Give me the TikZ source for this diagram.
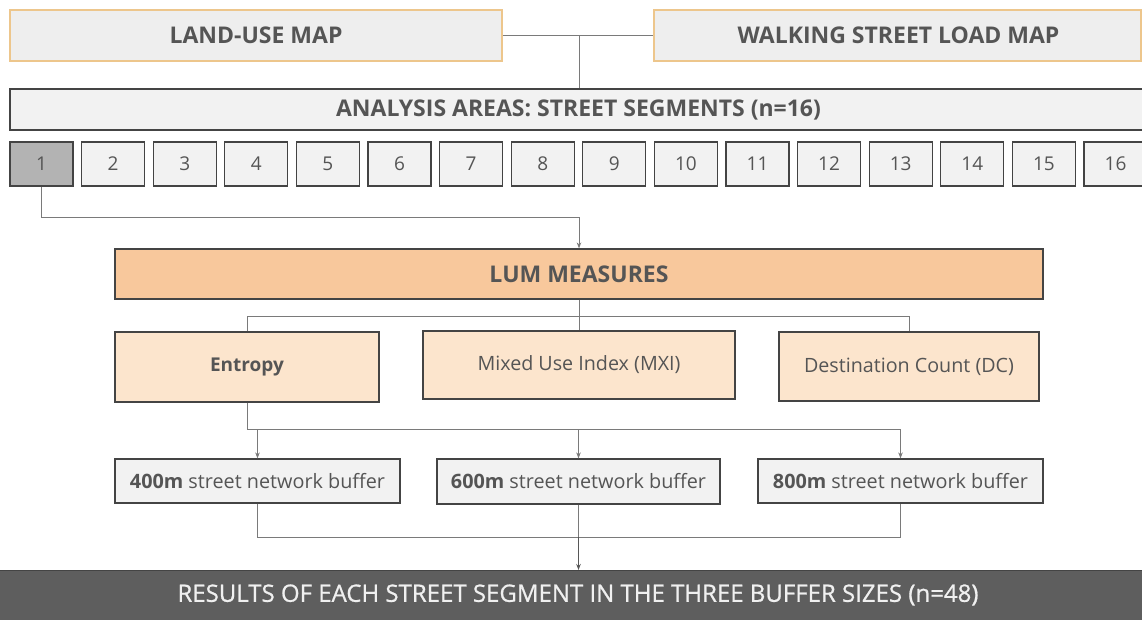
\documentclass[tikz,border=0pt]{standalone}
\usepackage{fontspec}
\setmainfont{Open Sans}
\newfontfamily\ressemi[FakeBold=0.8]{Open Sans}
\usetikzlibrary{arrows.meta,calc}
\definecolor{txt}{HTML}{555555}
\definecolor{edge}{HTML}{444444}
\definecolor{conn}{HTML}{7A7A7A}
\definecolor{topfill}{HTML}{EEEEEE}
\definecolor{topedge}{HTML}{EDC68C}
\definecolor{lightfill}{HTML}{F2F2F2}
\definecolor{selfill}{HTML}{B3B3B3}
\definecolor{lumfill}{HTML}{F8C89C}
\definecolor{subfill}{HTML}{FCE5CD}
\definecolor{resfill}{HTML}{5E5E5E}
\tikzset{
  base/.style={rectangle, inner sep=0pt, text=txt, anchor=center},
  topbox/.style={base, draw=topedge, line width=1.5pt, fill=topfill, font=\fontsize{23}{27}\selectfont\bfseries},
  anabox/.style={base, draw=edge, line width=1.2pt, fill=lightfill},
  numbox/.style={base, draw=edge, line width=1.1pt, fill=lightfill, minimum width=63pt, minimum height=44pt, font=\fontsize{19}{22}\selectfont},
  lumbox/.style={base, draw=edge, line width=1.2pt, fill=lumfill, font=\fontsize{23}{27}\selectfont\bfseries},
  subbox/.style={base, draw=edge, line width=1.2pt, fill=subfill, font=\fontsize{19.7}{23}\selectfont},
  bufbox/.style={base, draw=edge, line width=1.2pt, fill=lightfill, font=\fontsize{19.8}{23}\selectfont},
  resbox/.style={base, draw=edge, line width=1pt, fill=resfill},
  conline/.style={draw=conn, line width=1pt},
  conarrow/.style={conline, -{Stealth[length=6pt,width=4.5pt]}},
}
\begin{document}
\begin{tikzpicture}[x=1pt,y=-1pt]
\useasboundingbox (0,0) rectangle (1142,619);
\clip (0,0) rectangle (1142,619);
\fill[white] (0,0) rectangle (1142,619);
% top maps
\node[topbox, minimum width=492pt, minimum height=51pt] (land) at (256,35.5) {LAND-USE MAP};
\node[topbox, minimum width=487pt, minimum height=51pt] (walk) at (897.5,35.5) {\hspace*{2pt}WALKING STREET LOAD MAP};
% analysis bar
\node[anabox, minimum width=1140pt, minimum height=41pt] (ana) at (580,109.5) {};
\node[text=txt, font=\fontsize{23}{27}\selectfont\bfseries, inner sep=0pt] (anatxt) at (578.5,109.5) {ANALYSIS AREAS: STREET SEGMENTS (n=16)};
% numbered segments
\foreach \i in {1,...,16} {
  \node[numbox] (s\i) at ({41.5+(\i-1)*71.6},164) {\i};
}
\node[numbox, fill=selfill] (s1) at (41.5,164) {1};
% LUM
\node[lumbox, minimum width=928pt, minimum height=50pt] (lum) at (579,274) {LUM MEASURES};
\node[subbox, minimum width=264pt, minimum height=70pt, font=\fontsize{19}{23}\selectfont\bfseries] (ent) at (247,367) {Entropy};
\node[subbox, minimum width=312pt, minimum height=68pt] (mxi) at (579,365) {Mixed Use Index (MXI)};
\node[subbox, minimum width=260pt, minimum height=69pt] (dc) at (909,366.5) {Destination Count (DC)};
% buffers
\node[bufbox, minimum width=285pt, minimum height=44pt] (b4) at (257.5,481) {\textbf{400m} street network buffer};
\node[bufbox, minimum width=283pt, minimum height=45pt] (b6) at (578.5,481.5) {\textbf{600m} street network buffer};
\node[bufbox, minimum width=285pt, minimum height=44pt] (b8) at (900.5,481) {\textbf{800m} street network buffer};
% results
\node[resbox, minimum width=1146pt, minimum height=52pt] (res) at (571,596.5) {};
\node[text=white!94!black, font=\ressemi\fontsize{24}{28}\selectfont, inner sep=0pt] (restxt) at (578,595) {RESULTS OF EACH STREET SEGMENT IN THE THREE BUFFER SIZES (n=48)};
% connectors
\coordinate (j1) at (579,35.5);
\draw[conline] (land.east) -- (walk.west);
\draw[conline] (j1) -- (j1 |- ana.north);
\coordinate (ax) at (579,217);
\draw[conarrow] (s1.south) -- (s1.south |- ax) -- (ax) -- (ax |- lum.north);
\coordinate (j2) at (579,316);
\draw[conline] (lum.south) -- (j2);
\draw[conline] (ent.north) -- (ent.north |- j2) -- (dc.north |- j2) -- (dc.north);
\draw[conline] (j2) -- (mxi.north);
\coordinate (j3) at (578.5,429);
\draw[conline] (ent.south) -- (ent.south |- j3) -- (b8.north |- j3);
\draw[conarrow] (b4.north |- j3) -- (b4.north);
\draw[conarrow] (j3) -- (b6.north);
\draw[conarrow] (b8.north |- j3) -- (b8.north);
\coordinate (j4) at (578.5,537);
\draw[conline] (b4.south) -- (b4.south |- j4) -- (b8.south |- j4) -- (b8.south);
\draw[conline] (b6.south) -- (j4);
\draw[conline, draw=edge!90!white, line width=1.4pt, -{Stealth[length=6pt,width=4.5pt]}] (j4) -- (j4 |- res.north);
\end{tikzpicture}
\end{document}
